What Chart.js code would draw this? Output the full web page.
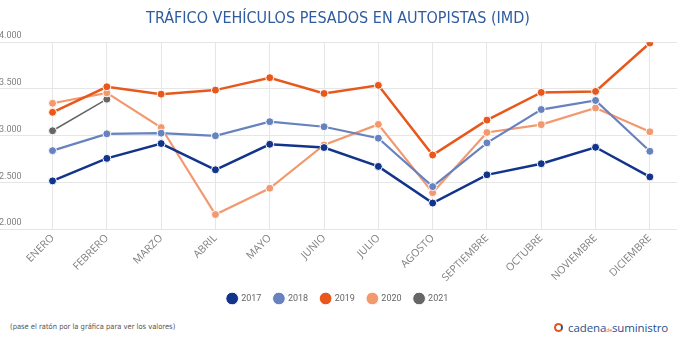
<!DOCTYPE html>
<html>
<head>
<meta charset="utf-8">
<script src="https://cdn.jsdelivr.net/npm/chart.js@4"></script>
<style>
  html, body { margin: 0; padding: 0; background: #fff; }
  body { width: 682px; height: 351px; position: relative; overflow: hidden; }
  #wrap { position: absolute; left: -6px; top: 0; width: 688px; height: 313px; }
  .nota { position: absolute; left: 10px; top: 322px; font: 7.5px "Liberation Sans Narrow", "DejaVu Sans Condensed", Roboto, sans-serif; color: #555; }
  .logo { position: absolute; left: 554px; top: 320px; font: 11.5px "Open Sans", sans-serif; color: #2c4f8c; white-space: nowrap; letter-spacing: -0.1px; }
  .logo .ic { display: inline-block; width: 5px; height: 5px; border: 2px solid #e8581c; border-right-color: #2c4f8c; border-radius: 50%; margin-right: 5px; vertical-align: 0px; }
  .logo small { font-size: 5px; color: #e8581c; }
</style>
</head>
<body>
<div id="wrap"><canvas id="lineChart"></canvas></div>
<div class="nota">(pase el ratón por la gráfica para ver los valores)</div>
<div class="logo"><span class="ic"></span>cadena<small>de</small>suministro</div>
<script>
const meses = ['ENERO', 'FEBRERO', 'MARZO', 'ABRIL', 'MAYO', 'JUNIO', 'JULIO', 'AGOSTO', 'SEPTIEMBRE', 'OCTUBRE', 'NOVIEMBRE', 'DICIEMBRE'];
const datos2017 = [2515, 2756, 2915, 2634, 2907, 2872, 2670, 2278, 2580, 2699, 2875, 2558];
const datos2018 = [2839, 3019, 3026, 2998, 3149, 3095, 2972, 2454, 2922, 3279, 3376, 2832];
const datos2019 = [3249, 3523, 3444, 3487, 3620, 3451, 3538, 2792, 3166, 3462, 3473, 3991];
const datos2020 = [3346, 3458, 3087, 2155, 2436, 2900, 3120, 2389, 3033, 3117, 3296, 3041];
const datos2021 = [3052, 3390];
const yTicks = [2000, 2500, 3000, 3500, 4000];

function serie(label, valores, color, ancho) {
    return {
        label: label,
        data: valores.map((v, i) => ({ x: i, y: v })),
        borderColor: color,
        backgroundColor: color,
        borderWidth: ancho,
        pointRadius: 4,
        pointBorderColor: '#fff',
        pointBorderWidth: 1,
        pointBackgroundColor: color,
        tension: 0,
        fill: false
    }
}

const ctx = document.getElementById('lineChart').getContext('2d');
new Chart(ctx, {
    type: 'line',
    data: {
        datasets: [
            serie('2017', datos2017, '#12348a', 2.5),
            serie('2018', datos2018, '#6782bf', 2.2),
            serie('2019', datos2019, '#e8581c', 2.5),
            serie('2020', datos2020, '#f3996f', 2.2),
            serie('2021', datos2021, '#666666', 1.5),
        ]
    },
    options: {
        responsive: true,
        maintainAspectRatio: false,
        animation: false,
        layout: { padding: { left: 0, right: 0, top: 0, bottom: 0 } },
        plugins: {
            tooltip: { enabled: false },
            title: {
                display: true,
                text: 'TRÁFICO VEHÍCULOS PESADOS EN AUTOPISTAS (IMD)',
                color: '#2f5c9f',
                font: { family: '"Liberation Sans Narrow", "DejaVu Sans Condensed", sans-serif', size: 16, weight: 'normal' },
                padding: { top: 9, bottom: 14 }
            },
            legend: {
                position: 'bottom',
                labels: {
                    usePointStyle: true,
                    pointStyle: 'circle',
                    boxWidth: 11,
                    boxHeight: 11,
                    padding: 13,
                    color: '#666',
                    font: { family: 'Roboto', size: 9 }
                }
            }
        },
        scales: {
            x: {
                type: 'linear',
                min: -0.986,
                max: 11.5,
                afterBuildTicks: axis => { axis.ticks = meses.map((m, i) => ({ value: i })); },
                afterFit: axis => { axis.height = 52; },
                ticks: {
                    callback: v => meses[v],
                    minRotation: 45,
                    maxRotation: 45,
                    color: '#808080',
                    font: { family: 'Open Sans', size: 10.5 },
                    padding: 3
                },
                grid: { color: '#e6e6e6', drawTicks: false },
                border: { display: false }
            },
            y: {
                min: 2000,
                max: 4000,
                afterBuildTicks: axis => { axis.ticks = yTicks.map(v => ({ value: v })); },
                ticks: {
                    mirror: true,
                    labelOffset: -6,
                    padding: 0,
                    color: '#808080',
                    font: { family: 'Roboto', size: 9 },
                    callback: v => (v / 1000).toFixed(3)
                },
                grid: { color: '#e6e6e6', drawTicks: false },
                border: { display: false }
            }
        }
    }
});
</script>
</body>
</html>
